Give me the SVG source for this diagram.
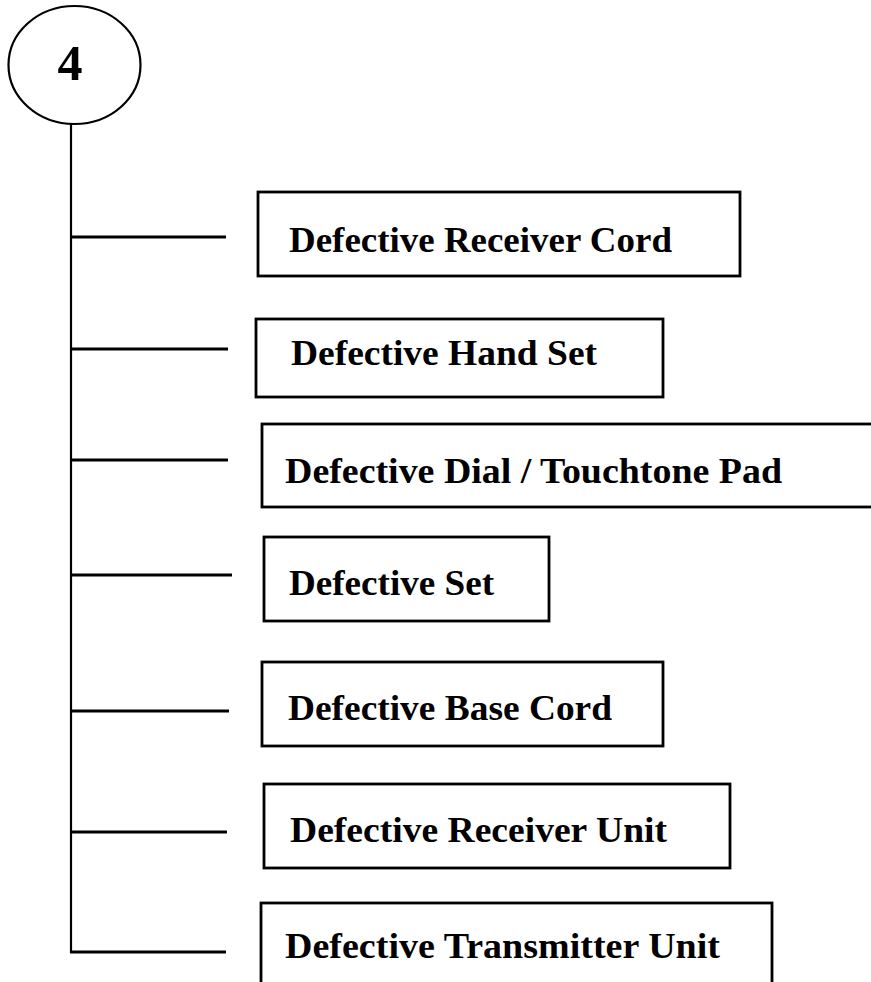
<svg xmlns="http://www.w3.org/2000/svg" width="871" height="982" viewBox="0 0 871 982">
<style>
.box{fill:#fff;stroke:#000;stroke-width:2.8}
.lbl{font-family:"Liberation Serif","Times New Roman",serif;font-weight:bold;font-size:35px;fill:#000}
.conn{stroke:#000;stroke-width:3;fill:none}
</style>
<rect width="871" height="982" fill="#fff"/>
<g id="connectors">
<line class="conn" x1="71" y1="124" x2="71" y2="953" style="stroke-width:2.2"/>
<line class="conn" x1="71" y1="237" x2="226" y2="237"/>
<line class="conn" x1="71" y1="349" x2="228" y2="349"/>
<line class="conn" x1="71" y1="460" x2="228" y2="460"/>
<line class="conn" x1="71" y1="575" x2="232" y2="575"/>
<line class="conn" x1="71" y1="711" x2="229" y2="711"/>
<line class="conn" x1="71" y1="832" x2="227" y2="832"/>
<line class="conn" x1="70" y1="952" x2="226" y2="952"/>
</g>
<g id="node-4">
<ellipse cx="74.5" cy="65" rx="66" ry="59" fill="#fff" stroke="#000" stroke-width="2.2"/>
<text class="lbl" x="70" y="80" text-anchor="middle" style="font-size:50px">4</text>
</g>
<g id="node-receiver-cord">
<rect class="box" x="258" y="192" width="482" height="84"/>
<text class="lbl" x="289" y="252" textLength="383" lengthAdjust="spacingAndGlyphs">Defective Receiver Cord</text>
</g>
<g id="node-hand-set">
<rect class="box" x="256" y="319" width="407" height="78"/>
<text class="lbl" x="291" y="365" textLength="306" lengthAdjust="spacingAndGlyphs">Defective Hand Set</text>
</g>
<g id="node-dial">
<rect class="box" x="262" y="424" width="620" height="83"/>
<text class="lbl" x="285" y="483" textLength="497" lengthAdjust="spacingAndGlyphs">Defective Dial / Touchtone Pad</text>
</g>
<g id="node-set">
<rect class="box" x="264" y="537" width="285" height="84"/>
<text class="lbl" x="289" y="595" textLength="205" lengthAdjust="spacingAndGlyphs">Defective Set</text>
</g>
<g id="node-base-cord">
<rect class="box" x="262" y="662" width="401" height="84"/>
<text class="lbl" x="288" y="720" textLength="324" lengthAdjust="spacingAndGlyphs">Defective Base Cord</text>
</g>
<g id="node-receiver-unit">
<rect class="box" x="264" y="784" width="466" height="84"/>
<text class="lbl" x="290" y="842" textLength="377" lengthAdjust="spacingAndGlyphs">Defective Receiver Unit</text>
</g>
<g id="node-transmitter-unit">
<rect class="box" x="261" y="903" width="511" height="100"/>
<text class="lbl" x="285" y="958" textLength="435" lengthAdjust="spacingAndGlyphs">Defective Transmitter Unit</text>
</g>
</svg>
